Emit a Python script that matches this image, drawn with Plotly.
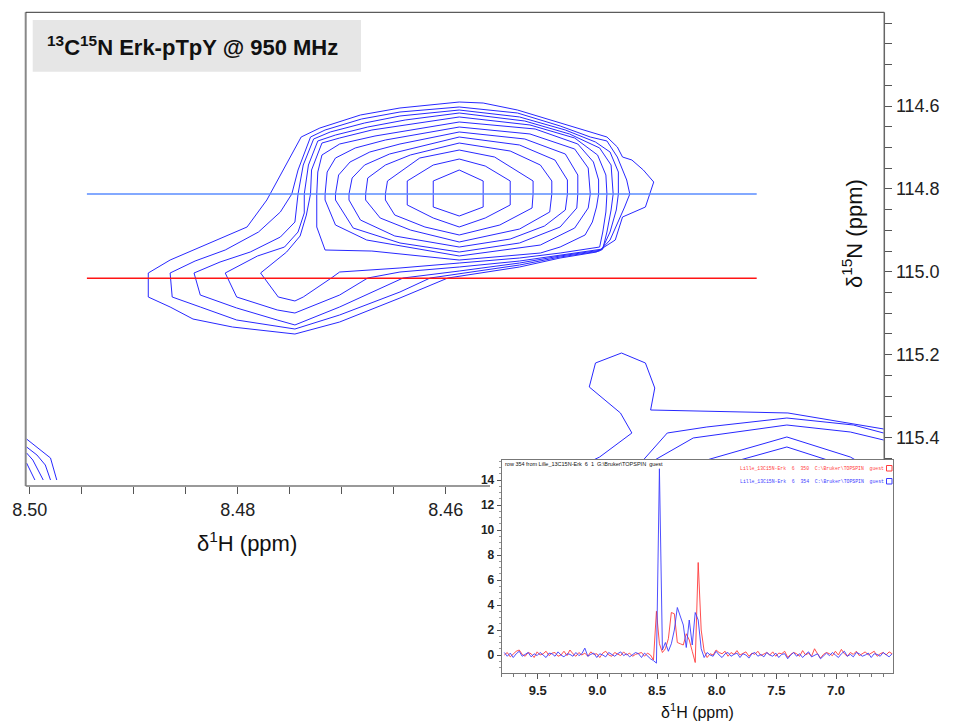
import plotly.graph_objects as go

W, H = 953, 723

# ---------------- main 2D spectrum: contour polylines (1H ppm, 15N ppm) ----------------
lvl01 = [(8.4739,114.6748),(8.4721,114.6531),(8.4682,114.6217),(8.4644,114.6048),(8.4587,114.5904),(8.4564,114.5928),(8.4531,114.6097),(8.4490,114.6410),(8.4461,114.6627),(8.4445,114.6748),(8.4435,114.6989),(8.4430,114.7231),(8.4421,114.7303),(8.4410,114.7544),(8.4400,114.7834),(8.4404,114.8123),(8.4408,114.8437),(8.4430,114.8678),(8.4437,114.9233),(8.4455,114.9523),(8.4490,114.9667),(8.4529,114.9884),(8.4587,115.0101),(8.4598,115.0150),(8.4644,115.0632),(8.4702,115.1211),(8.4745,115.1501),(8.4805,115.1332),(8.4843,115.1139),(8.4865,115.0849),(8.4886,115.0608),(8.4886,115.0029),(8.4865,114.9716),(8.4836,114.9402),(8.4791,114.8919),(8.4772,114.8268),(8.4753,114.7375),(8.4739,114.6748)]
lvl02 = [(8.4730,114.6748),(8.4716,114.6579),(8.4681,114.6314),(8.4644,114.6145),(8.4587,114.6024),(8.4531,114.6169),(8.4490,114.6482),(8.4461,114.6748),(8.4445,114.6844),(8.4435,114.7231),(8.4426,114.7785),(8.4423,114.8123),(8.4428,114.8437),(8.4435,114.8823),(8.4442,114.9233),(8.4452,114.9499),(8.4490,114.9643),(8.4529,114.9836),(8.4587,115.0053),(8.4615,115.0150),(8.4644,115.0487),(8.4702,115.1042),(8.4745,115.1380),(8.4801,115.1163),(8.4836,115.0849),(8.4863,115.0608),(8.4865,115.0029),(8.4841,114.9740),(8.4812,114.9474),(8.4780,114.9040),(8.4759,114.8557),(8.4748,114.8123),(8.4742,114.7544),(8.4730,114.6748)]
lvl03 = [(8.4727,114.6796),(8.4711,114.6627),(8.4678,114.6410),(8.4644,114.6241),(8.4587,114.6097),(8.4529,114.6265),(8.4485,114.6579),(8.4456,114.6869),(8.4442,114.7110),(8.4434,114.7593),(8.4434,114.8123),(8.4436,114.8509),(8.4442,114.9040),(8.4450,114.9474),(8.4490,114.9619),(8.4529,114.9788),(8.4587,114.9981),(8.4641,115.0150),(8.4702,115.0849),(8.4745,115.1283),(8.4762,115.1163),(8.4801,115.0873),(8.4836,115.0560),(8.4842,115.0029),(8.4817,114.9764),(8.4788,114.9523),(8.4759,114.9161),(8.4745,114.8799),(8.4742,114.8123),(8.4737,114.7424),(8.4727,114.6796)]
lvl04 = [(8.4723,114.6844),(8.4706,114.6700),(8.4675,114.6507),(8.4639,114.6338),(8.4587,114.6169),(8.4524,114.6362),(8.4481,114.6675),(8.4452,114.7013),(8.4441,114.7424),(8.4439,114.8123),(8.4441,114.8509),(8.4445,114.9040),(8.4449,114.9450),(8.4490,114.9595),(8.4529,114.9740),(8.4587,114.9884),(8.4644,115.0005),(8.4675,115.0150),(8.4702,115.0560),(8.4745,115.0994),(8.4762,115.0921),(8.4801,115.0608),(8.4812,115.0029),(8.4781,114.9619),(8.4755,114.9402),(8.4742,114.9040),(8.4736,114.8581),(8.4736,114.8123),(8.4732,114.7424),(8.4723,114.6844)]
lvl05 = [(8.4719,114.6893),(8.4702,114.6772),(8.4671,114.6579),(8.4634,114.6434),(8.4587,114.6265),(8.4519,114.6458),(8.4476,114.6772),(8.4454,114.7182),(8.4446,114.7665),(8.4445,114.8123),(8.4446,114.8557),(8.4449,114.9040),(8.4452,114.9402),(8.4490,114.9547),(8.4529,114.9667),(8.4587,114.9788),(8.4644,114.9908),(8.4702,115.0005),(8.4710,115.0150),(8.4737,115.0608),(8.4745,115.0704),(8.4761,115.0608),(8.4778,115.0029),(8.4753,114.9523),(8.4740,114.9136),(8.4734,114.8630),(8.4730,114.8123),(8.4729,114.7544),(8.4719,114.6893)]
lvl06 = [(8.4724,114.8123),(8.4723,114.7593),(8.4719,114.7182),(8.4702,114.6917),(8.4668,114.6724),(8.4587,114.6386),(8.4514,114.6555),(8.4473,114.6917),(8.4458,114.7351),(8.4453,114.7785),(8.4453,114.8123),(8.4455,114.8437),(8.4459,114.8799),(8.4466,114.9112),(8.4490,114.9402),(8.4509,114.9547),(8.4587,114.9716),(8.4671,114.9499),(8.4716,114.9474),(8.4724,114.8919),(8.4724,114.8123)]
lvl07 = [(8.4716,114.8123),(8.4714,114.7593),(8.4706,114.7255),(8.4687,114.7013),(8.4658,114.6820),(8.4587,114.6507),(8.4519,114.6675),(8.4476,114.7038),(8.4463,114.7496),(8.4461,114.8123),(8.4463,114.8461),(8.4476,114.8944),(8.4509,114.9354),(8.4587,114.9619),(8.4676,114.9233),(8.4706,114.8871),(8.4716,114.8268),(8.4716,114.8123)]
lvl08 = [(8.4706,114.8123),(8.4703,114.7665),(8.4692,114.7351),(8.4673,114.7110),(8.4644,114.6917),(8.4587,114.6627),(8.4524,114.6796),(8.4485,114.7158),(8.4473,114.7665),(8.4473,114.8123),(8.4474,114.8461),(8.4490,114.8919),(8.4529,114.9305),(8.4587,114.9523),(8.4644,114.9305),(8.4689,114.8944),(8.4706,114.8268),(8.4706,114.8123)]
lvl09 = [(8.4693,114.8123),(8.4690,114.7737),(8.4678,114.7424),(8.4654,114.7158),(8.4587,114.6748),(8.4529,114.6941),(8.4495,114.7303),(8.4483,114.7785),(8.4483,114.8123),(8.4485,114.8509),(8.4505,114.8895),(8.4538,114.9209),(8.4587,114.9402),(8.4649,114.9136),(8.4682,114.8751),(8.4693,114.8268),(8.4693,114.8123)]
lvl10 = [(8.4677,114.8123),(8.4675,114.7737),(8.4658,114.7424),(8.4634,114.7182),(8.4587,114.6893),(8.4538,114.7086),(8.4509,114.7424),(8.4498,114.7809),(8.4498,114.8123),(8.4500,114.8557),(8.4529,114.8968),(8.4587,114.9281),(8.4634,114.8992),(8.4663,114.8702),(8.4677,114.8268),(8.4677,114.8123)]
lvl11 = [(8.4658,114.8123),(8.4656,114.7809),(8.4625,114.7255),(8.4587,114.7062),(8.4553,114.7231),(8.4516,114.7809),(8.4516,114.8123),(8.4517,114.8461),(8.4548,114.8871),(8.4587,114.9112),(8.4620,114.8919),(8.4649,114.8630),(8.4658,114.8268),(8.4658,114.8123)]
lvl12 = [(8.4637,114.8123),(8.4637,114.7809),(8.4612,114.7424),(8.4587,114.7279),(8.4562,114.7448),(8.4538,114.7809),(8.4538,114.8388),(8.4562,114.8702),(8.4587,114.8919),(8.4612,114.8702),(8.4637,114.8388),(8.4637,114.8123)]
lvl13 = [(8.4587,114.7544),(8.4564,114.7809),(8.4564,114.8437),(8.4587,114.8654),(8.4612,114.8437),(8.4612,114.7809),(8.4587,114.7544)]

# neighbouring peaks (bottom right and bottom left corners)
br1 = [(8.4458,115.4540),(8.4452,115.4468),(8.4421,115.3889),(8.4432,115.3406),(8.4462,115.2779),(8.4456,115.2200),(8.4431,115.1959),(8.4408,115.2200),(8.4399,115.2803),(8.4403,115.3334),(8.4271,115.3406),(8.4179,115.3792)]
br2 = [(8.4410,115.4540),(8.4387,115.3889),(8.4349,115.3744),(8.4272,115.3527),(8.4208,115.3696),(8.4179,115.3889)]
br3 = [(8.4399,115.4540),(8.4362,115.4009),(8.4272,115.3696),(8.4211,115.3865),(8.4179,115.4058)]
br4 = [(8.4349,115.4540),(8.4272,115.3985),(8.4211,115.4468),(8.4206,115.4540)]
br5 = [(8.4317,115.4540),(8.4272,115.4226),(8.4233,115.4540)]
bl1 = [(8.5003,115.4034),(8.4990,115.4299),(8.4980,115.4492),(8.4974,115.5023)]
bl2 = [(8.5003,115.4226),(8.4993,115.4420),(8.4985,115.4661),(8.4980,115.5023)]
bl3 = [(8.5003,115.4371),(8.4997,115.4540),(8.4987,115.5023)]
bl4 = [(8.5003,115.4613),(8.4995,115.5023)]

# row markers (1H ppm start/end, 15N ppm)
row_h = [8.4945, 8.4301]
row_blue_n = 114.8123
row_red_n = 115.0155

main_h_ticks = [8.50, 8.48, 8.46]
main_h_labels = ["8.50", "8.48", "8.46"]
main_h_minor = [8.495, 8.490, 8.485, 8.475, 8.470, 8.465]
main_n_ticks = [114.6, 114.8, 115.0, 115.2, 115.4]
main_n_labels = ["114.6", "114.8", "115.0", "115.2", "115.4"]
main_n_minor = [114.40, 114.45, 114.50, 114.55, 114.65, 114.70, 114.75, 114.85, 114.90, 114.95,
                115.05, 115.10, 115.15, 115.25, 115.30, 115.35, 115.45]

# ---------------- inset: 1D rows ----------------
row_ppm = [round(9.78 - 0.025 * i, 3) for i in range(131)]
blue_row = [0.2,-0.1,0.15,-0.2,0.1,0.3,-0.1,0.05,0.2,-0.15, 0.1,-0.05,0.2,0.0,-0.2,0.15,0.1,-0.1,0.25,0.0,
            -0.15,0.1,0.05,-0.1,0.2,-0.05,0.1,0.55,-0.1,0.05, 0.15,-0.2,0.1,0.0,-0.15,0.2,0.05,-0.1,0.1,0.25,
            -0.05,0.1,-0.15,0.05,0.2,
            0.1,-0.2,0.15,-0.1,-0.3,-0.45,-0.65,14.9,0.4,1.0,0.3,0.9,2.0,3.8,3.0,2.4,0.6,2.8,0.8,3.4,2.8,0.5,-0.2,0.2,0.0,-0.1,
            0.3,0.0,-0.2,0.1,0.2,-0.1,0.05,0.15,-0.2,0.1, 0.0,-0.25,0.1,0.2,-0.1,0.05,-0.15,0.2,0.0,-0.1,
            0.15,-0.2,0.05,0.1,-0.3,0.0,0.2,-0.1,0.1,-0.2, 0.05,0.25,-0.15,0.0,0.1,-0.3,-0.1,0.15,-0.05,0.2,
            0.0,-0.2,0.1,0.3,-0.1,0.05,-0.15,0.2,0.1,-0.1, 0.0,0.15,-0.2,0.1,0.05,-0.1,0.2,0.0,-0.15,0.1]
red_row = [0.0,0.2,-0.15,0.1,0.3,0.4,0.05,-0.1,0.2,0.1, -0.2,0.25,0.0,0.1,0.3,-0.05,0.15,0.2,-0.1,0.0,
           0.3,-0.05,0.4,0.1,-0.1,0.2,0.0,0.15,-0.1,0.25, 0.05,0.1,-0.2,0.15,0.3,0.0,-0.1,0.2,0.1,-0.05,
           0.25,0.0,0.15,-0.1,0.05,
           0.1,0.2,-0.1,0.15,0.0,-0.4,3.5,0.9,0.2,0.5,1.3,3.4,3.3,1.0,0.9,0.8,1.7,1.2,0.3,-0.6,7.4,2.0,0.3,-0.2,0.1,0.0,
           0.4,0.2,0.1,0.3,-0.1,0.2,0.05,0.35,0.0,0.1, 0.25,-0.1,0.15,0.05,0.3,-0.05,0.1,0.2,0.0,0.25,
           -0.1,0.15,0.1,0.3,-0.2,0.05,0.2,0.1,-0.1,0.35, 0.0,0.15,-0.1,0.5,0.1,-0.25,0.05,0.2,0.1,-0.05,
           0.3,0.0,0.45,0.1,-0.1,0.2,0.05,0.3,-0.05,0.1, 0.25,0.0,0.15,0.3,-0.1,0.1,0.2,0.0,0.25,0.1]
inset_x_ticks = [9.5, 9.0, 8.5, 8.0, 7.5, 7.0]
inset_x_labels = ["9.5", "9.0", "8.5", "8.0", "7.5", "7.0"]
inset_y_ticks = [0, 2, 4, 6, 8, 10, 12, 14]

FONT = "Liberation Sans, Arial, Helvetica, sans-serif"
CONTOUR = "rgb(40,40,255)"


def px(x):
    return x / W


def py(y):
    return 1 - y / H


fig = go.Figure()

contours = [lvl01, lvl02, lvl03, lvl04, lvl05, lvl06, lvl07, lvl08, lvl09, lvl10, lvl11, lvl12, lvl13,
            br1, br2, br3, br4, br5, bl1, bl2, bl3, bl4]
for c in contours:
    hs, ns = zip(*c)
    fig.add_trace(go.Scatter(x=list(hs), y=list(ns), mode="lines",
                             line=dict(color=CONTOUR, width=1),
                             hoverinfo="skip", showlegend=False, xaxis="x", yaxis="y"))

fig.add_trace(go.Scatter(x=row_h, y=[row_blue_n, row_blue_n], mode="lines",
                         line=dict(color="rgb(90,140,255)", width=1.3),
                         hoverinfo="skip", showlegend=False, xaxis="x", yaxis="y"))
fig.add_trace(go.Scatter(x=row_h, y=[row_red_n, row_red_n], mode="lines",
                         line=dict(color="rgb(255,20,20)", width=1.3),
                         hoverinfo="skip", showlegend=False, xaxis="x", yaxis="y"))

# inset traces
fig.add_trace(go.Scatter(x=row_ppm, y=red_row, mode="lines",
                         line=dict(color="rgba(255,60,60,0.9)", width=1),
                         hoverinfo="skip", showlegend=False, xaxis="x2", yaxis="y2"))
fig.add_trace(go.Scatter(x=row_ppm, y=blue_row, mode="lines",
                         line=dict(color="rgba(60,60,255,0.9)", width=1),
                         hoverinfo="skip", showlegend=False, xaxis="x2", yaxis="y2"))

fig.update_layout(
    template="none",
    width=W, height=H, margin=dict(l=0, r=0, t=0, b=0, pad=0, autoexpand=False),
    paper_bgcolor="white", plot_bgcolor="white", showlegend=False,
    font=dict(family=FONT, color="#222"),
    xaxis=dict(domain=[px(25.7), px(884.3)], range=[8.500385, 8.417831], anchor="y", automargin=False,
               showgrid=False, zeroline=False, showline=False,
               ticks="outside", ticklen=7, tickwidth=1, tickcolor="#555",
               tickmode="array", tickvals=main_h_ticks, ticktext=main_h_labels,
               minor=dict(tickmode="array", tickvals=main_h_minor, ticks="outside", ticklen=7,
                          tickwidth=1, tickcolor="#555", showgrid=False),
               tickfont=dict(family=FONT, size=18, color="#222")),
    yaxis=dict(domain=[py(486), py(12.3)], range=[115.51675, 114.37395], anchor="x", side="right",
               automargin=False, showgrid=False, zeroline=False, showline=False,
               ticks="outside", ticklen=7, tickwidth=1, tickcolor="#555",
               tickmode="array", tickvals=main_n_ticks, ticktext=main_n_labels,
               minor=dict(tickmode="array", tickvals=main_n_minor, ticks="outside", ticklen=7,
                          tickwidth=1, tickcolor="#555", showgrid=False),
               tickfont=dict(family=FONT, size=18, color="#222")),
    xaxis2=dict(domain=[px(501.7), px(892.7)], range=[9.8018, 6.525], anchor="y2", automargin=False,
                showgrid=False, zeroline=False, showline=True, mirror=True, linecolor="#777", linewidth=1,
                ticks="outside", ticklen=5, tickcolor="#555",
                tickmode="array", tickvals=inset_x_ticks, ticktext=inset_x_labels,
                minor=dict(dtick=0.1, ticks="outside", ticklen=3, tickcolor="#777", showgrid=False),
                tickfont=dict(family=FONT, size=13, color="#222", weight="bold")),
    yaxis2=dict(domain=[py(673.3), py(460)], range=[-1.464, 15.6], anchor="x2", automargin=False,
                showgrid=False, zeroline=False, showline=True, mirror=True, linecolor="#777", linewidth=1,
                ticks="outside", ticklen=4, tickcolor="#555",
                tickmode="array", tickvals=inset_y_ticks,
                minor=dict(dtick=0.5, ticks="outside", ticklen=2, tickcolor="#999", showgrid=False),
                tickfont=dict(family=FONT, size=12, color="#222", weight="bold")),
)

shapes = [
    # title box
    dict(type="rect", xref="paper", yref="paper", x0=px(32.7), x1=px(361), y0=py(71.7), y1=py(20),
         fillcolor="#e6e6e6", line=dict(width=0), layer="above"),
    # main frame
    dict(type="line", xref="paper", yref="paper", x0=px(25.7), x1=px(25.7), y0=py(486), y1=py(12.3),
         line=dict(color="#888", width=2), layer="above"),
    dict(type="line", xref="paper", yref="paper", x0=px(25.7), x1=px(884.3), y0=py(12.3), y1=py(12.3),
         line=dict(color="#333", width=1), layer="above"),
    dict(type="line", xref="paper", yref="paper", x0=px(25.7), x1=px(490), y0=py(486), y1=py(486),
         line=dict(color="#777", width=1.5), layer="above"),
    dict(type="line", xref="paper", yref="paper", x0=px(884.3), x1=px(884.3), y0=py(460), y1=py(12.3),
         line=dict(color="#666", width=1.5), layer="above"),
    # inset legend boxes
    dict(type="rect", xref="paper", yref="paper", x0=px(886.5), x1=px(892), y0=py(471), y1=py(465.5),
         line=dict(color="rgb(255,60,60)", width=1), fillcolor="white", layer="above"),
    dict(type="rect", xref="paper", yref="paper", x0=px(886.5), x1=px(892), y0=py(484), y1=py(478.5),
         line=dict(color="rgb(60,60,255)", width=1), fillcolor="white", layer="above"),
]
fig.update_layout(shapes=shapes)

annotations = [
    dict(text="<b><sup>13</sup>C<sup>15</sup>N Erk-pTpY @ 950 MHz</b>", x=px(45), y=py(46.5),
         xanchor="left", yanchor="middle", font=dict(family=FONT, size=22, color="#111")),
    dict(text="δ<sup>1</sup>H (ppm)", x=px(247), y=py(542), xanchor="center", yanchor="middle",
         font=dict(family=FONT, size=22, color="#111")),
    dict(text="δ<sup>15</sup>N (ppm)", x=px(852.7), y=py(233.3), xanchor="center", yanchor="middle",
         textangle=-90, font=dict(family=FONT, size=22, color="#111")),
    dict(text="δ<sup>1</sup>H (ppm)", x=px(697), y=py(711), xanchor="center", yanchor="middle",
         font=dict(family=FONT, size=16, color="#111")),
    dict(text="row 354 from Lille_13C15N-Erk  6  1  G:\\Bruker\\TOPSPIN  guest", x=px(502.5), y=py(463.5),
         xanchor="left", yanchor="middle", font=dict(family=FONT, size=5.5, color="#111")),
    dict(text="Lille_13C15N-Erk  6  350  C:\\Bruker\\TOPSPIN  guest", x=px(885.5), y=py(468),
         xanchor="right", yanchor="middle", font=dict(family="Liberation Mono, monospace", size=4.8, color="rgb(255,60,60)")),
    dict(text="Lille_13C15N-Erk  6  354  C:\\Bruker\\TOPSPIN  guest", x=px(885.5), y=py(481),
         xanchor="right", yanchor="middle", font=dict(family="Liberation Mono, monospace", size=4.8, color="rgb(60,60,255)")),
]
for a in annotations:
    a.update(xref="paper", yref="paper", showarrow=False)
fig.update_layout(annotations=annotations)

fig.write_html("out.html", config={"displayModeBar": False, "staticPlot": True},
               post_script="document.body.style.margin='0';document.body.style.overflow='hidden';")
